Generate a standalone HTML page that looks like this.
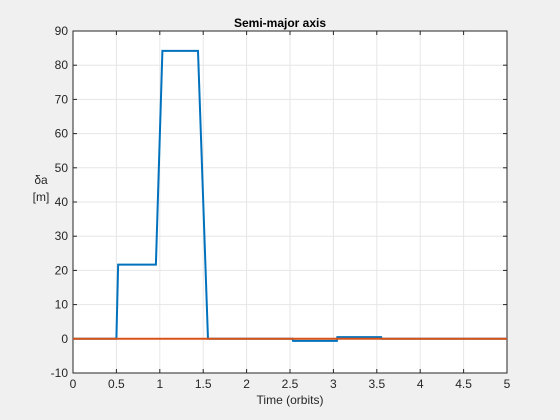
<!DOCTYPE html>
<html style="width:560px;height:420px;overflow:hidden;margin:0"><head><meta charset="utf-8"><style>
body{margin:0;background:#f0f0f0;width:560px;height:420px;overflow:hidden;font-family:"Liberation Sans",sans-serif;position:relative}
svg{display:block;position:absolute;left:0;top:0}
</style></head><body>
<svg width="560" height="420" id="svg" xmlns="http://www.w3.org/2000/svg"></svg>
<script>
const xTicks=[0,0.5,1,1.5,2,2.5,3,3.5,4,4.5,5];
const yTicks=[-10,0,10,20,30,40,50,60,70,80,90];
const blueX=[0,0.5,0.52,0.955,1.03,1.44,1.555,2.53,2.535,3.04,3.045,3.55,3.555,5];
const blueY=[0,0,21.7,21.7,84.2,84.2,0,0,-0.6,-0.6,0.5,0.5,0,0];
const orangeX=[0,5];
const orangeY=[0,0];
const L=73,R=507,T=31,B=373;
const sx=v=>L+(v-0)/5*(R-L);
const sy=v=>B-(v+10)/100*(B-T);
const svg=document.getElementById('svg');
const NS='http://www.w3.org/2000/svg';
function mk(t,a,p){const e=document.createElementNS(NS,t);for(const k in a)e.setAttribute(k,a[k]);(p||svg).appendChild(e);return e;}
const bg=mk('rect',{x:L,y:T,width:R-L,height:B-T,fill:'#fff'});


xTicks.forEach(v=>{const x=sx(v);
 const g=mk('line',{x1:x,x2:x,y1:T,y2:B,stroke:'#e6e6e6','stroke-width':1});
 
 
 mk('line',{x1:x,x2:x,y1:B,y2:B-4,stroke:'#262626'});
 mk('line',{x1:x,x2:x,y1:T,y2:T+4,stroke:'#262626'});
 const t=mk('text',{x:x,y:B+15,'text-anchor':'middle','font-size':12,fill:'#262626'});t.textContent=v;
 
 
});
yTicks.forEach(v=>{const y=sy(v);
 const g=mk('line',{x1:L,x2:R,y1:y,y2:y,stroke:'#e6e6e6','stroke-width':1});
 
 
 mk('line',{x1:L,x2:L+4,y1:y,y2:y,stroke:'#262626'});
 mk('line',{x1:R,x2:R-4,y1:y,y2:y,stroke:'#262626'});
 const t=mk('text',{x:L-5,y:y+4,'text-anchor':'end','font-size':12,fill:'#262626'});t.textContent=v;
 
 
});
const bx=mk('rect',{x:L,y:T,width:R-L,height:B-T,fill:'none',stroke:'#262626','stroke-width':1});


function line(xs,ys,c,n){const p=mk('polyline',{points:xs.map((x,i)=>sx(x)+','+sy(ys[i])).join(' '),fill:'none',stroke:c,'stroke-width':2});
 
 }
line(blueX,blueY,'#0072bd','series-delta-a');
line(orangeX,orangeY,'#d95319','series-reference');
</script>
<div style="position:absolute;left:0;width:560px;top:16px;text-align:center;font-size:12px;font-weight:bold;color:#000">Semi-major axis</div>
<div style="position:absolute;left:0;width:580px;top:393px;text-align:center;font-size:12px;color:#262626">Time (orbits)</div>
<div style="position:absolute;left:26px;width:30px;top:172px;text-align:center;font-size:12px;color:#262626;line-height:17px">δa<br>[m]</div>
</body></html>
